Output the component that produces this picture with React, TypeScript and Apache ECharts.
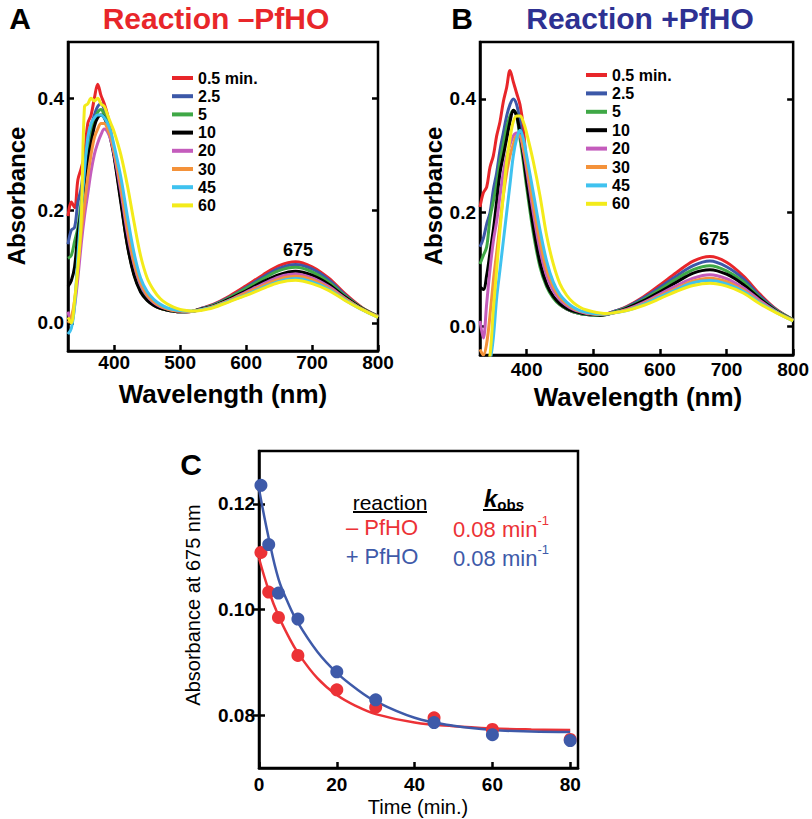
import React, { useEffect, useRef } from "react";
import * as echarts from "echarts";

// ---------- Data ----------
const WAVELENGTHS = [330, 335, 340, 345, 350, 355, 360, 365, 370, 375, 380, 385, 390, 395, 400, 410, 420, 430, 440, 450, 460, 470, 480, 490, 500, 510, 520, 530, 550, 575, 600, 625, 650, 675, 700, 725, 750, 775, 800];
const TIME_LABELS = ["0.5 min.", "2.5", "5", "10", "20", "30", "45", "60"];
const SPECTRUM_COLORS = ["#e8262a", "#3c58a8", "#3fa846", "#000000", "#c45cbc", "#f4923a", "#3fc2ef", "#f3eb1a"];
const WL_TICKS = [400, 500, 600, 700, 800];
const ABS_TICKS = [0, 0.2, 0.4];

// Panel A: Reaction –PfHO
const A_05 = [0.19, 0.215, 0.205, 0.255, 0.275, 0.30, 0.355, 0.37, 0.40, 0.425, 0.405, 0.39, 0.37, 0.34, 0.30, 0.22, 0.14, 0.088, 0.058, 0.042, 0.032, 0.026, 0.023, 0.021, 0.020, 0.020, 0.021, 0.025, 0.033, 0.048, 0.066, 0.085, 0.102, 0.109, 0.100, 0.080, 0.052, 0.028, 0.012];
const A_25 = [0.14, 0.165, 0.17, 0.215, 0.24, 0.285, 0.32, 0.35, 0.37, 0.385, 0.39, 0.38, 0.36, 0.335, 0.30, 0.225, 0.145, 0.09, 0.06, 0.043, 0.033, 0.027, 0.023, 0.021, 0.020, 0.020, 0.021, 0.025, 0.032, 0.046, 0.063, 0.081, 0.097, 0.104, 0.096, 0.077, 0.050, 0.027, 0.012];
const A_5 = [0.115, 0.12, 0.145, 0.17, 0.215, 0.255, 0.30, 0.33, 0.36, 0.375, 0.38, 0.37, 0.355, 0.33, 0.30, 0.22, 0.14, 0.087, 0.057, 0.041, 0.032, 0.026, 0.023, 0.021, 0.020, 0.020, 0.021, 0.024, 0.031, 0.045, 0.061, 0.078, 0.093, 0.099, 0.091, 0.073, 0.048, 0.027, 0.012];
const A_10 = [0.065, 0.075, 0.10, 0.16, 0.20, 0.25, 0.29, 0.32, 0.35, 0.365, 0.37, 0.365, 0.35, 0.325, 0.295, 0.215, 0.138, 0.085, 0.055, 0.040, 0.031, 0.026, 0.023, 0.021, 0.020, 0.020, 0.021, 0.024, 0.030, 0.043, 0.057, 0.073, 0.086, 0.092, 0.085, 0.069, 0.046, 0.026, 0.011];
const A_20 = [0.02, 0.0, 0.03, 0.08, 0.14, 0.19, 0.23, 0.27, 0.30, 0.32, 0.335, 0.345, 0.34, 0.325, 0.30, 0.235, 0.16, 0.105, 0.068, 0.048, 0.036, 0.029, 0.025, 0.022, 0.021, 0.020, 0.021, 0.023, 0.029, 0.041, 0.055, 0.069, 0.082, 0.087, 0.080, 0.065, 0.044, 0.025, 0.011];
const A_30 = [0.0, 0.01, 0.04, 0.10, 0.16, 0.21, 0.26, 0.30, 0.33, 0.345, 0.355, 0.355, 0.345, 0.33, 0.305, 0.245, 0.17, 0.11, 0.072, 0.05, 0.038, 0.030, 0.025, 0.022, 0.021, 0.020, 0.021, 0.023, 0.029, 0.040, 0.053, 0.066, 0.078, 0.083, 0.077, 0.062, 0.043, 0.025, 0.011];
const A_45 = [-0.02, -0.01, 0.03, 0.12, 0.20, 0.27, 0.33, 0.355, 0.365, 0.37, 0.37, 0.365, 0.355, 0.34, 0.315, 0.26, 0.19, 0.125, 0.08, 0.056, 0.042, 0.033, 0.027, 0.024, 0.022, 0.021, 0.021, 0.023, 0.028, 0.039, 0.050, 0.063, 0.074, 0.079, 0.073, 0.060, 0.041, 0.024, 0.010];
const A_60 = [0.01, 0.0, 0.04, 0.10, 0.18, 0.385, 0.39, 0.40, 0.395, 0.40, 0.39, 0.385, 0.37, 0.355, 0.34, 0.30, 0.245, 0.18, 0.12, 0.08, 0.058, 0.043, 0.034, 0.028, 0.024, 0.022, 0.021, 0.022, 0.027, 0.038, 0.049, 0.061, 0.072, 0.076, 0.070, 0.058, 0.040, 0.024, 0.010];

// Panel B: Reaction +PfHO
const B_05 = [0.21, 0.235, 0.245, 0.28, 0.30, 0.335, 0.36, 0.395, 0.42, 0.45, 0.43, 0.41, 0.39, 0.35, 0.28, 0.19, 0.115, 0.075, 0.052, 0.039, 0.031, 0.026, 0.023, 0.021, 0.020, 0.020, 0.022, 0.026, 0.035, 0.052, 0.073, 0.095, 0.115, 0.123, 0.113, 0.089, 0.057, 0.030, 0.012];
const B_25 = [0.14, 0.155, 0.18, 0.20, 0.24, 0.27, 0.31, 0.34, 0.37, 0.39, 0.40, 0.39, 0.36, 0.32, 0.27, 0.185, 0.112, 0.074, 0.052, 0.039, 0.031, 0.026, 0.023, 0.021, 0.020, 0.020, 0.022, 0.026, 0.034, 0.050, 0.069, 0.089, 0.107, 0.115, 0.105, 0.084, 0.054, 0.029, 0.012];
const B_5 = [0.11, 0.125, 0.14, 0.19, 0.22, 0.25, 0.29, 0.32, 0.35, 0.37, 0.38, 0.37, 0.33, 0.29, 0.245, 0.165, 0.105, 0.07, 0.05, 0.038, 0.031, 0.026, 0.023, 0.021, 0.020, 0.020, 0.021, 0.025, 0.033, 0.047, 0.065, 0.084, 0.100, 0.107, 0.098, 0.079, 0.051, 0.028, 0.012];
const B_10 = [0.07, 0.065, 0.09, 0.13, 0.17, 0.22, 0.27, 0.30, 0.33, 0.36, 0.38, 0.37, 0.34, 0.30, 0.255, 0.175, 0.112, 0.074, 0.053, 0.040, 0.032, 0.027, 0.024, 0.022, 0.021, 0.020, 0.021, 0.024, 0.032, 0.045, 0.061, 0.078, 0.094, 0.100, 0.092, 0.074, 0.049, 0.027, 0.011];
const B_20 = [0.01, -0.02, 0.04, 0.10, 0.15, 0.185, 0.23, 0.27, 0.30, 0.32, 0.335, 0.34, 0.335, 0.31, 0.275, 0.20, 0.135, 0.09, 0.063, 0.047, 0.037, 0.030, 0.026, 0.023, 0.022, 0.021, 0.022, 0.024, 0.030, 0.042, 0.057, 0.072, 0.085, 0.091, 0.084, 0.068, 0.046, 0.026, 0.011];
const B_30 = [-0.04, -0.05, -0.03, 0.02, 0.08, 0.13, 0.18, 0.23, 0.27, 0.30, 0.32, 0.335, 0.335, 0.315, 0.285, 0.215, 0.15, 0.10, 0.07, 0.051, 0.040, 0.032, 0.027, 0.024, 0.022, 0.021, 0.022, 0.024, 0.029, 0.040, 0.054, 0.067, 0.080, 0.085, 0.079, 0.064, 0.043, 0.025, 0.011];
const B_45 = [-0.07, -0.07, -0.07, -0.06, -0.02, 0.05, 0.10, 0.15, 0.20, 0.25, 0.30, 0.33, 0.345, 0.33, 0.30, 0.235, 0.17, 0.115, 0.078, 0.056, 0.043, 0.034, 0.028, 0.025, 0.023, 0.022, 0.022, 0.024, 0.028, 0.039, 0.052, 0.065, 0.077, 0.081, 0.075, 0.062, 0.042, 0.025, 0.010];
const B_60 = [-0.07, -0.07, -0.07, -0.05, 0.03, 0.10, 0.17, 0.23, 0.29, 0.33, 0.36, 0.37, 0.37, 0.36, 0.34, 0.29, 0.23, 0.16, 0.11, 0.075, 0.055, 0.042, 0.034, 0.029, 0.026, 0.024, 0.023, 0.024, 0.028, 0.037, 0.049, 0.062, 0.072, 0.076, 0.071, 0.059, 0.040, 0.024, 0.010];

// Panel C: absorbance at 675 nm vs time
const TIMES = [0.5, 2.5, 5, 10, 20, 30, 45, 60, 80];
const ABS675_MINUS = [0.1108, 0.1033, 0.0985, 0.0913, 0.0848, 0.0815, 0.0795, 0.0773, 0.0754];
const ABS675_PLUS = [0.1235, 0.1123, 0.1031, 0.0982, 0.0882, 0.0829, 0.0786, 0.0763, 0.0752];
const FIT_TIMES = [0, 2.5, 5, 7.5, 10, 15, 20, 25, 30, 40, 50, 60, 70, 80];
const FIT_MINUS = [0.1097, 0.1036, 0.0988, 0.0950, 0.0918, 0.0870, 0.0838, 0.0817, 0.0802, 0.0786, 0.0779, 0.0775, 0.0773, 0.0772];
const FIT_PLUS = [0.1228, 0.1135, 0.1058, 0.1012, 0.0975, 0.0920, 0.0880, 0.0850, 0.0826, 0.0795, 0.0780, 0.0772, 0.0769, 0.0768];
const TIME_TICKS = [0, 20, 40, 60, 80];
const C_TICKS = [0.08, 0.10, 0.12];

const PANEL_A = [A_05, A_25, A_5, A_10, A_20, A_30, A_45, A_60];
const PANEL_B = [B_05, B_25, B_5, B_10, B_20, B_30, B_45, B_60];

const FONT = "'Liberation Sans', Arial, Helvetica, sans-serif";
const RED = "#e8262a";
const NAVY = "#2e3192";
const C_RED = "#ec3236";
const C_BLUE = "#3e5aa9";

function bottomAxis(grid: number, min: number, max: number, ticks: number[], margin: number) {
  return {
    type: "value", gridIndex: grid, min, max, position: "bottom",
    axisLine: { onZero: false, lineStyle: { color: "#000", width: 2.5 } },
    axisTick: { inside: true, length: 6, customValues: ticks, lineStyle: { color: "#000", width: 2.5 } },
    axisLabel: { customValues: ticks, color: "#000", fontSize: 19, fontWeight: "bold", fontFamily: FONT, margin },
    splitLine: { show: false },
  };
}
function leftAxis(grid: number, min: number, max: number, ticks: number[], digits: number) {
  return {
    type: "value", gridIndex: grid, min, max, position: "left",
    axisLine: { onZero: false, lineStyle: { color: "#000", width: 2.5 } },
    axisTick: { inside: true, length: 6, customValues: ticks, lineStyle: { color: "#000", width: 2.5 } },
    axisLabel: { customValues: ticks, color: "#000", fontSize: 19, fontWeight: "bold", fontFamily: FONT, margin: 4, formatter: (v: number) => v.toFixed(digits) },
    splitLine: { show: false },
  };
}
function rightAxis(grid: number, min: number, max: number, ticks: number[]) {
  return {
    type: "value", gridIndex: grid, min, max, position: "right",
    axisLine: { show: false },
    axisTick: { inside: true, length: 6, customValues: ticks, lineStyle: { color: "#000", width: 2.5 } },
    axisLabel: { show: false },
    splitLine: { show: false },
  };
}

function spectrumSeries(values: number[][], xAxisIndex: number, yAxisIndex: number) {
  return values.map((arr, i) => ({
    type: "line",
    name: TIME_LABELS[i],
    xAxisIndex, yAxisIndex,
    data: WAVELENGTHS.map((w, j) => [w, arr[j]]),
    showSymbol: false,
    smooth: 0.35,
    color: SPECTRUM_COLORS[i],
    lineStyle: { color: SPECTRUM_COLORS[i], width: 3 },
    itemStyle: { color: SPECTRUM_COLORS[i] },
    silent: true,
    z: 2 + i,
  }));
}

function legendFor(left: number, top: number, gap: number) {
  return {
    data: TIME_LABELS, orient: "vertical", left, top, padding: 0,
    itemWidth: 21, itemHeight: 4, itemGap: gap, icon: "rect", selectedMode: false,
    textStyle: { fontSize: 16, fontWeight: "bold", fontFamily: FONT, color: "#000", lineHeight: 16 },
  };
}

function txt(x: number, y: number, text: string, size: number, color = "#000", weight = "bold", extra: any = {}) {
  return {
    type: "text", x, y, silent: true, z: 100, ...extra,
    style: { text, fill: color, font: `${weight} ${size}px ${FONT}`, textAlign: "center", textVerticalAlign: "middle" },
  };
}

export default function App() {
  const ref = useRef<HTMLDivElement>(null);
  useEffect(() => {
    document.body.style.margin = "0";
    if (!ref.current) return;
    const chart = echarts.init(ref.current, undefined, { renderer: "svg" });
    const option: any = {
      animation: false,
      backgroundColor: "#ffffff",
      grid: [
        { left: 68, top: 42, width: 310, height: 309, show: true, borderColor: "#000", borderWidth: 2.5, backgroundColor: "transparent" },
        { left: 480, top: 42, width: 316, height: 313, show: true, borderColor: "#000", borderWidth: 2.5, backgroundColor: "transparent" },
        { left: 259, top: 451, width: 319, height: 317, show: true, borderColor: "#000", borderWidth: 2.5, backgroundColor: "transparent" },
      ],
      xAxis: [
        bottomAxis(0, 330, 800, WL_TICKS, 2),
        bottomAxis(1, 330, 800, WL_TICKS, 5),
        bottomAxis(2, 0, 82, TIME_TICKS, 7),
      ],
      yAxis: [
        leftAxis(0, -0.05, 0.5, ABS_TICKS, 1),
        leftAxis(1, -0.05, 0.5, ABS_TICKS, 1),
        leftAxis(2, 0.07, 0.13, C_TICKS, 2),
        rightAxis(0, -0.05, 0.5, ABS_TICKS),
        rightAxis(1, -0.05, 0.5, ABS_TICKS),
        rightAxis(2, 0.07, 0.13, C_TICKS),
      ],
      legend: [legendFor(172, 70, 2.2), legendFor(586, 67, 2.4)],
      series: [
        ...spectrumSeries(PANEL_A, 0, 0),
        ...spectrumSeries(PANEL_B, 1, 1),
        {
          type: "line", name: "fit –PfHO", xAxisIndex: 2, yAxisIndex: 2,
          data: FIT_TIMES.map((t, i) => [t, FIT_MINUS[i]]), showSymbol: false, smooth: 0.4,
          lineStyle: { color: C_RED, width: 2.5 }, itemStyle: { color: C_RED }, silent: true, z: 3,
        },
        {
          type: "line", name: "fit +PfHO", xAxisIndex: 2, yAxisIndex: 2,
          data: FIT_TIMES.map((t, i) => [t, FIT_PLUS[i]]), showSymbol: false, smooth: 0.4,
          lineStyle: { color: C_BLUE, width: 2.5 }, itemStyle: { color: C_BLUE }, silent: true, z: 3,
        },
        {
          type: "scatter", name: "–PfHO", xAxisIndex: 2, yAxisIndex: 2,
          data: TIMES.map((t, i) => [t, ABS675_MINUS[i]]), symbolSize: 13,
          itemStyle: { color: C_RED, opacity: 1 }, silent: true, z: 4,
        },
        {
          type: "scatter", name: "+PfHO", xAxisIndex: 2, yAxisIndex: 2,
          data: TIMES.map((t, i) => [t, ABS675_PLUS[i]]), symbolSize: 13,
          itemStyle: { color: C_BLUE, opacity: 1 }, silent: true, z: 5,
        },
      ],
      graphic: [
        txt(20, 18, "A", 30),
        txt(216, 18, "Reaction –PfHO", 30, RED),
        txt(462, 18, "B", 30),
        txt(640, 18, "Reaction +PfHO", 30, NAVY),
        txt(191, 464, "C", 30),
        txt(298, 250, "675", 18),
        txt(714, 239, "675", 18),
        txt(16, 196, "Absorbance", 24, "#000", "bold", { rotation: Math.PI / 2 }),
        txt(433, 196, "Absorbance", 24, "#000", "bold", { rotation: Math.PI / 2 }),
        txt(223, 394, "Wavelength (nm)", 26),
        txt(638, 397, "Wavelength (nm)", 26),
        txt(193, 605, "Absorbance at 675 nm", 20, "#000", "normal", { rotation: Math.PI / 2 }),
        txt(418, 807, "Time (min.)", 20, "#000", "normal"),
        txt(390, 502, "reaction", 21, "#000", "normal"),
        { type: "line", silent: true, z: 100, shape: { x1: 353, y1: 512, x2: 427, y2: 512 }, style: { stroke: "#000", lineWidth: 2 } },
        {
          type: "text", x: 484, y: 486, silent: true, z: 100,
          style: {
            text: "{k|k}{o|obs}",
            rich: {
              k: { fontSize: 24, fontWeight: "bold", fontStyle: "italic", fontFamily: FONT, fill: "#000", lineHeight: 26, verticalAlign: "top" },
              o: { fontSize: 15, fontWeight: "bold", fontFamily: FONT, fill: "#000", lineHeight: 26, verticalAlign: "bottom" },
            },
          },
        },
        { type: "line", silent: true, z: 100, shape: { x1: 483, y1: 510, x2: 522, y2: 510 }, style: { stroke: "#000", lineWidth: 2 } },
        txt(382, 527, "– PfHO", 22, C_RED, "normal"),
        txt(382, 556, "+ PfHO", 22, C_BLUE, "normal"),
        {
          type: "text", x: 453, y: 514, silent: true, z: 100,
          style: {
            text: "{a|0.08 min}{s|-1}",
            rich: {
              a: { fontSize: 22, fontFamily: FONT, fill: C_RED, lineHeight: 26, verticalAlign: "bottom" },
              s: { fontSize: 13, fontFamily: FONT, fill: C_RED, lineHeight: 14, verticalAlign: "top" },
            },
          },
        },
        {
          type: "text", x: 453, y: 543, silent: true, z: 100,
          style: {
            text: "{a|0.08 min}{s|-1}",
            rich: {
              a: { fontSize: 22, fontFamily: FONT, fill: C_BLUE, lineHeight: 26, verticalAlign: "bottom" },
              s: { fontSize: 13, fontFamily: FONT, fill: C_BLUE, lineHeight: 14, verticalAlign: "top" },
            },
          },
        },
      ],
    };
    chart.setOption(option);
    return () => chart.dispose();
  }, []);
  return <div ref={ref} style={{ width: 812, height: 819 }} />;
}
